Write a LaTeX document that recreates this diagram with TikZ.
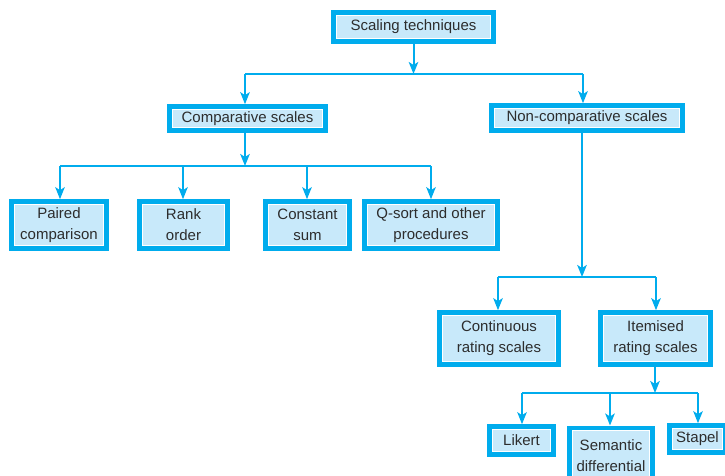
\documentclass[tikz,border=0pt]{standalone}
\usepackage{fontspec}
\setmainfont{Liberation Sans}
\usetikzlibrary{arrows.meta}
\definecolor{cyanline}{RGB}{0,172,237}
\definecolor{boxfill}{RGB}{200,233,250}
\definecolor{txt}{RGB}{45,45,45}
\tikzset{
  box/.style={draw=cyanline, line width=4.6pt, fill=boxfill, text=txt,
    inner sep=0pt, align=center, font=\fontsize{15}{21}\selectfont,
    path picture={\draw[white,line width=0.8pt]
      ([shift={(2.8pt,-2.8pt)}]path picture bounding box.north west) rectangle
      ([shift={(-2.8pt,2.8pt)}]path picture bounding box.south east);}},
  conn/.style={draw=cyanline, line width=2pt},
  arr/.style={conn, -{Stealth[length=12pt,width=9.5pt,inset=3pt]}},
}
\begin{document}
\begin{tikzpicture}[x=1pt,y=-1pt]
\useasboundingbox (0,0) rectangle (725,476);
\clip (0,0) rectangle (725,476);
% nodes (outer size minus line width)
\node[box, minimum width=160pt, minimum height=29pt] (scal) at (413.5,27) {Scaling techniques};
\node[box, minimum width=156pt, minimum height=24pt] (comp) at (247.5,118.5) {Comparative scales};
\node[box, minimum width=191pt, minimum height=25pt] (noncomp) at (587,118) {Non-comparative scales};
\node[box, minimum width=95pt, minimum height=47pt] (paired) at (59,225) {Paired\\comparison};
\node[box, minimum width=88pt, minimum height=47pt] (rank) at (183.5,225) {Rank\\order};
\node[box, minimum width=84pt, minimum height=47pt] (const) at (307.5,225) {Constant\\sum};
\node[box, minimum width=133pt, minimum height=47pt] (qsort) at (431,225) {Q-sort and other\\procedures};
\node[box, minimum width=119pt, minimum height=52pt] (cont) at (499,338.5) {Continuous\\rating scales};
\node[box, minimum width=110pt, minimum height=52pt] (item) at (655.5,338.5) {Itemised\\rating scales};
\node[box, minimum width=64pt, minimum height=28pt] (likert) at (521.5,440.5) {Likert};
\node[box, minimum width=83pt, minimum height=56pt, anchor=north] (sem) at (611,425.5) {Semantic\\differential};
\node[box, minimum width=56pt, minimum height=27pt] (stapel) at (697.5,439) {Stapel};
% junction coordinates
\coordinate (j0) at (413.5,74);
\coordinate (j0l) at (245,74);
\coordinate (j0r) at (583,74);
\coordinate (j1) at (245,166);
\coordinate (j1a) at (60,166);
\coordinate (j1b) at (183,166);
\coordinate (j1c) at (307,166);
\coordinate (j1d) at (431,166);
\coordinate (j2) at (582,277);
\coordinate (j2l) at (498,277);
\coordinate (j2r) at (656,277);
\coordinate (j3) at (655,393);
\coordinate (j3a) at (522,393);
\coordinate (j3b) at (610,393);
\coordinate (j3c) at (698,393);
% level 1
\draw[arr] (scal.south) -- (j0);
\draw[conn] (j0l) -- (j0r);
\draw[arr] (j0l) -- (j0l |- comp.north);
\draw[arr] (j0r) -- (j0r |- noncomp.north);
% comparative
\draw[arr] (comp.south -| j1) -- (j1);
\draw[conn] (j1a) -- (j1d);
\draw[arr] (j1a) -- (j1a |- paired.north);
\draw[arr] (j1b) -- (j1b |- rank.north);
\draw[arr] (j1c) -- (j1c |- const.north);
\draw[arr] (j1d) -- (j1d |- qsort.north);
% non-comparative
\draw[arr] (noncomp.south -| j2) -- (j2);
\draw[conn] (j2l) -- (j2r);
\draw[arr] (j2l) -- (j2l |- cont.north);
\draw[arr] (j2r) -- (j2r |- item.north);
% itemised
\draw[arr] (item.south -| j3) -- (j3);
\draw[conn] (j3a) -- (j3c);
\draw[arr] (j3a) -- (j3a |- likert.north);
\draw[arr] (j3b) -- (j3b |- sem.north);
\draw[arr] (j3c) -- (j3c |- stapel.north);
\end{tikzpicture}
\end{document}
